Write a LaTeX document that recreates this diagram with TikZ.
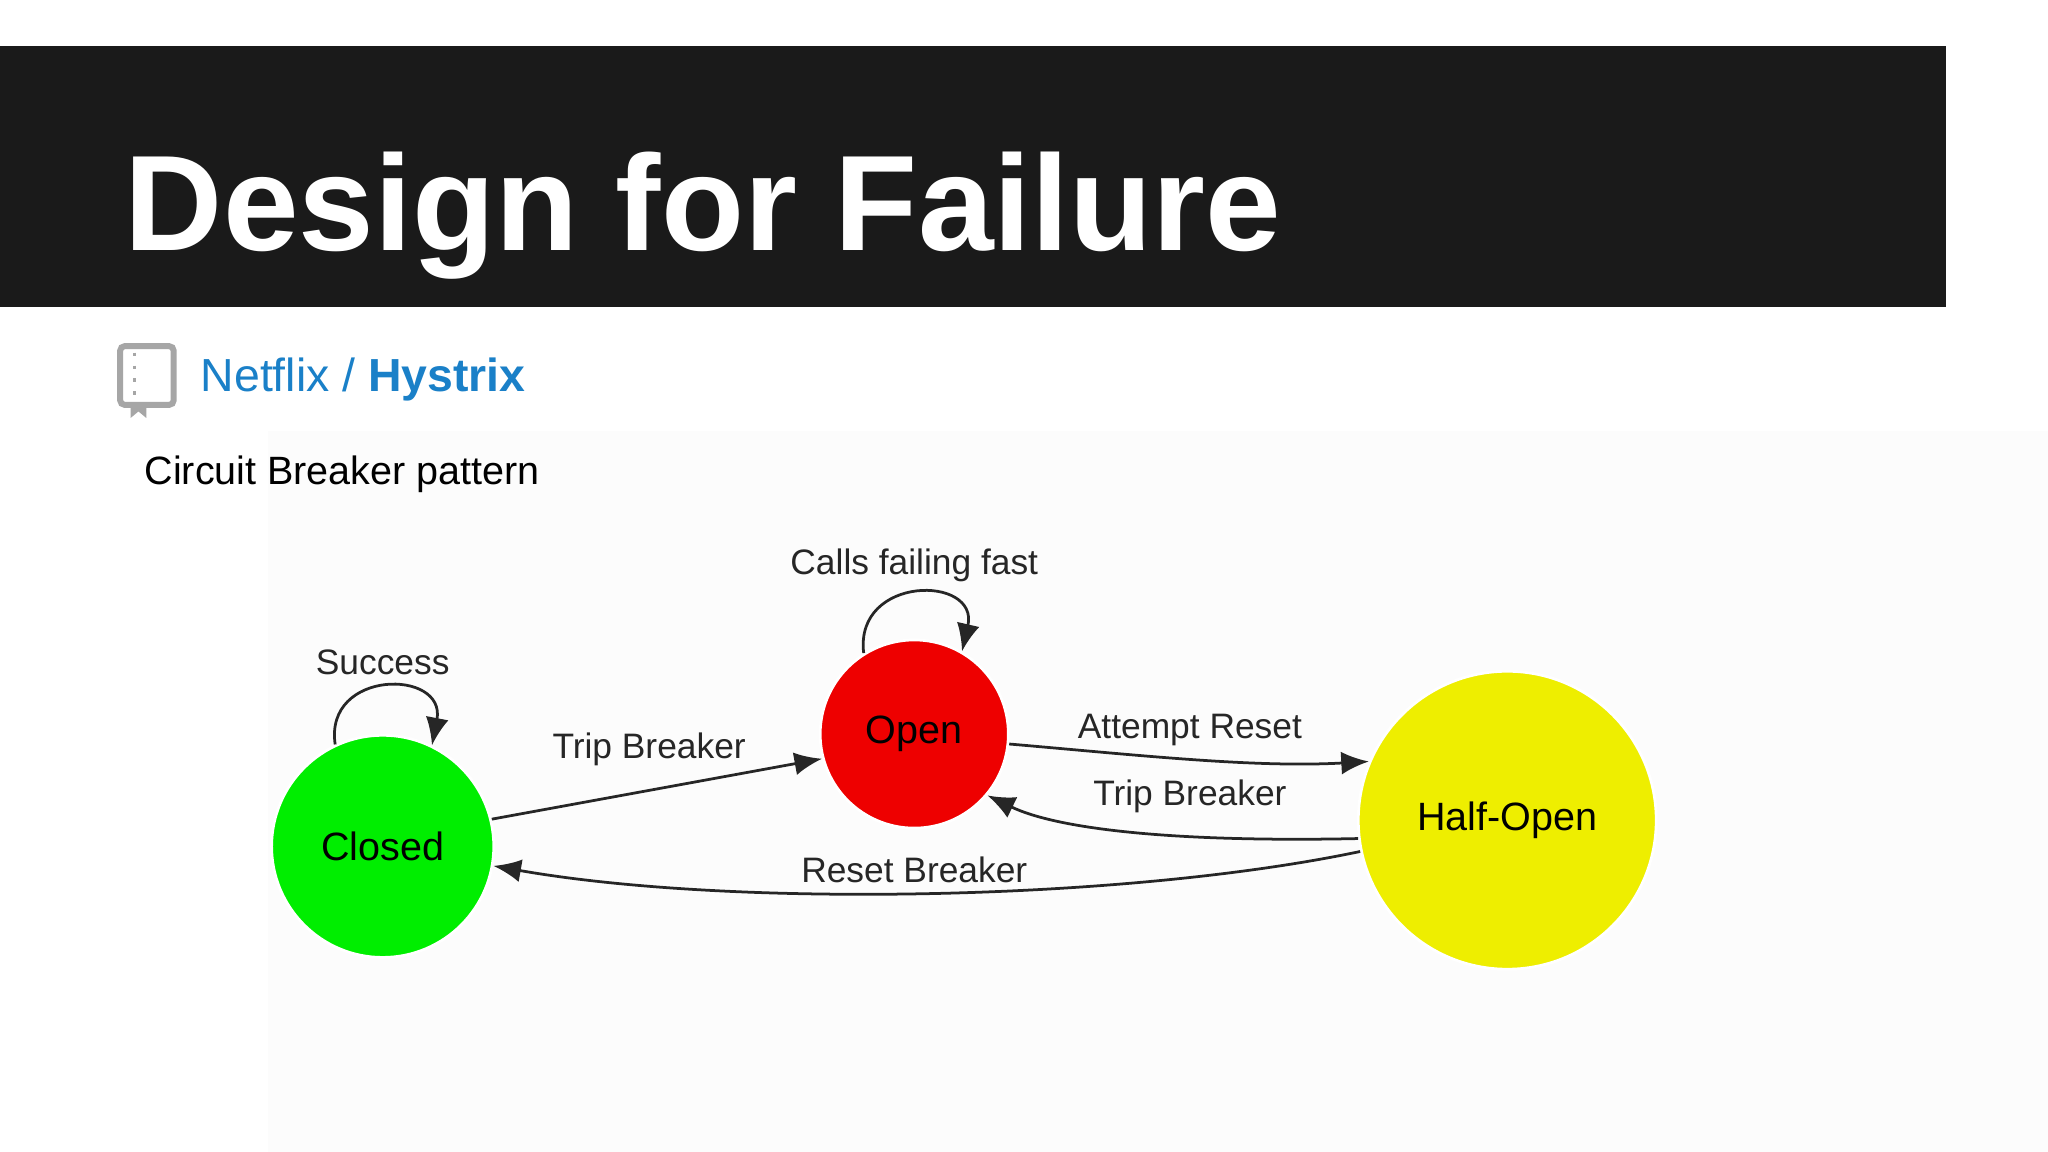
\documentclass[tikz,border=0pt]{standalone}
\usepackage{fontspec}
\setmainfont{Liberation Sans}
\usetikzlibrary{arrows.meta}
\definecolor{band}{HTML}{1A1A1A}
\definecolor{nfblue}{HTML}{1A80C8}
\tikzset{
  st/.style={circle,draw=white,line width=0.6pt,inner sep=0pt,font=\fontsize{8.6}{10}\selectfont},
  tr/.style={-{Latex[length=6pt,width=5pt]},line width=0.6pt,black!85},
  lb/.style={font=\fontsize{7.7}{9}\selectfont,text=black!85,inner sep=1pt}
}
\begin{document}
\begin{tikzpicture}[x=0.01cm,y=-0.01cm]
\useasboundingbox (0,0) rectangle (1568,882);
\fill[white] (0,0) rectangle (1568,882);
\fill[black!1] (205,330) rectangle (1568,882);
\fill[band] (0,35) rectangle (1490,235);
\node[anchor=base west,text=white,font=\fontsize{29.6}{34}\selectfont\bfseries,inner sep=0pt] (title) at (95,192) {Design for Failure};
% book icon
\draw[black!35,line width=1.3pt,rounded corners=1pt] (92,265) rectangle (133,310);
\draw[black!35,line width=0.8pt,dotted] (103,270) -- (103,305);
\fill[black!35] (100,310) -- (100,320) -- (106,315) -- (112,320) -- (112,310) -- cycle;
\node[anchor=base west,font=\fontsize{10.1}{12}\selectfont,text=nfblue,inner sep=0pt] (nf) at (153,300) {Netflix / \textbf{Hystrix}};
\node[anchor=base west,font=\fontsize{8.6}{10}\selectfont,inner sep=0pt] (cb) at (110,371) {Circuit Breaker pattern};
% states
\node[st,fill={rgb,255:red,0;green,238;blue,0},minimum size=1.7cm] (closed) at (293,648) {Closed};
\node[st,fill={rgb,255:red,238;green,0;blue,0},minimum size=1.44cm] (open) at (700,562) {Open};
\node[st,fill={rgb,255:red,238;green,238;blue,0},minimum size=2.28cm] (half) at (1154,628) {Half-Open};
% edges
\draw[tr] (closed.14) -- (open.195);
\node[lb] (l1) at (497,574) {Trip Breaker};
\draw[tr] (open.-6) .. controls (870,578) and (960,588) .. (half.157);
\node[lb] (l2) at (911,559) {Attempt Reset};
\draw[tr] (half.187) .. controls (900,645) and (810,635) .. (open.-40);
\node[lb] (l3) at (911,610) {Trip Breaker};
\draw[tr] (half.192) .. controls (860,690) and (560,695) .. (closed.-10);
\node[lb] (l4) at (700,666) {Reset Breaker};
\draw[tr] (closed.115) .. controls (248,512) and (342,512) .. (closed.64);
\node[lb] (l5) at (293,507) {Success};
\draw[tr] (open.122) .. controls (654,440) and (750,440) .. (open.60);
\node[lb] (l6) at (700,433) {Calls failing fast};
\end{tikzpicture}
\end{document}
